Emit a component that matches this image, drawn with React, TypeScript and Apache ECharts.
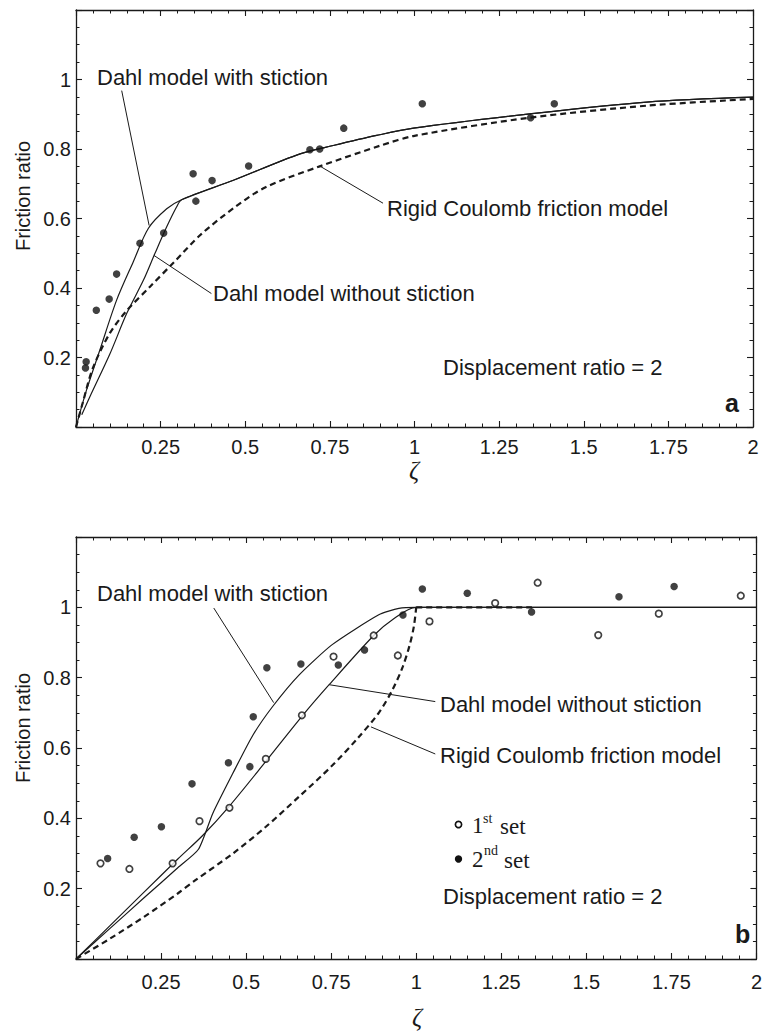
import React, { useEffect, useRef } from "react";
import * as echarts from "echarts";

// ---------- Panel a: displacement ratio = 2 ----------
// measured points
const zetaExpA = [0.028, 0.03, 0.06, 0.098, 0.12, 0.189, 0.259, 0.346, 0.354, 0.402, 0.51, 0.691, 0.72, 0.791, 1.023, 1.343, 1.413];
const fricExpA = [0.17, 0.188, 0.336, 0.368, 0.44, 0.529, 0.558, 0.729, 0.65, 0.709, 0.751, 0.798, 0.8, 0.86, 0.93, 0.89, 0.93];

// Dahl model with stiction
const zetaWithA = [0, 0.031, 0.07, 0.12, 0.169, 0.214, 0.268, 0.312, 0.465, 0.662, 0.76, 0.888, 0.997, 1.341, 1.686, 2];
const fricWithA = [0, 0.106, 0.22, 0.365, 0.475, 0.572, 0.628, 0.654, 0.71, 0.786, 0.81, 0.839, 0.86, 0.901, 0.935, 0.949];

// Dahl model without stiction
const zetaWithoutA = [0.017, 0.041, 0.1, 0.15, 0.199, 0.233, 0.268, 0.297, 0.312, 0.465, 0.662, 0.76, 0.888, 0.997, 1.341, 1.686, 2];
const fricWithoutA = [0.035, 0.087, 0.21, 0.327, 0.422, 0.499, 0.576, 0.633, 0.654, 0.71, 0.786, 0.81, 0.839, 0.86, 0.901, 0.935, 0.949];

// Rigid Coulomb friction model
const zetaRigidA = [0, 0.02, 0.05, 0.1, 0.15, 0.22, 0.29, 0.37, 0.47, 0.56, 0.72, 0.9, 1.0, 1.34, 1.69, 2];
const fricRigidA = [0, 0.07, 0.17, 0.27, 0.335, 0.405, 0.475, 0.555, 0.633, 0.69, 0.75, 0.81, 0.838, 0.89, 0.925, 0.944];

// ---------- Panel b ----------
const zetaSet1B = [0.072, 0.157, 0.284, 0.363, 0.451, 0.558, 0.664, 0.757, 0.875, 0.946, 1.039, 1.232, 1.357, 1.535, 1.713, 1.954];
const fricSet1B = [0.272, 0.256, 0.272, 0.392, 0.43, 0.569, 0.693, 0.86, 0.92, 0.863, 0.96, 1.012, 1.07, 0.921, 0.982, 1.033];

const zetaSet2B = [0.093, 0.171, 0.251, 0.341, 0.448, 0.511, 0.521, 0.561, 0.661, 0.771, 0.848, 0.961, 1.018, 1.15, 1.339, 1.596, 1.758];
const fricSet2B = [0.286, 0.346, 0.376, 0.498, 0.558, 0.547, 0.689, 0.828, 0.839, 0.836, 0.879, 0.978, 1.052, 1.04, 0.987, 1.03, 1.059];

const zetaWithB = [0, 0.1, 0.2, 0.3, 0.36, 0.402, 0.461, 0.519, 0.578, 0.656, 0.753, 0.89, 0.949, 1.0, 2];
const fricWithB = [0, 0.087, 0.174, 0.26, 0.312, 0.414, 0.528, 0.635, 0.718, 0.808, 0.894, 0.979, 0.997, 1.0, 1.0];

const zetaWithoutB = [0, 0.1, 0.2, 0.3, 0.373, 0.451, 0.558, 0.664, 0.744, 0.875, 0.93, 1.0, 2];
const fricWithoutB = [0, 0.095, 0.19, 0.285, 0.352, 0.435, 0.562, 0.69, 0.78, 0.92, 0.965, 1.0, 1.0];

// rising branch up to sticking at ζ = 1, then the plateau
const zetaRigidB = [0, 0.1, 0.2, 0.3, 0.351, 0.461, 0.558, 0.656, 0.753, 0.83, 0.89, 0.93, 0.96, 0.98, 0.993, 1.0];
const fricRigidB = [0, 0.058, 0.12, 0.187, 0.224, 0.3, 0.376, 0.462, 0.55, 0.63, 0.7, 0.765, 0.83, 0.89, 0.945, 1.0];
const zetaRigidFlatB = [1.0, 1.34];
const fricRigidFlatB = [1.0, 1.0];

// leader lines from the curve labels to their curves, [zeta, friction] pairs
const leadersA = [
  [[0.135, 0.968], [0.216, 0.58]],
  [[0.23, 0.494], [0.4, 0.384]],
  [[0.72, 0.751], [0.907, 0.644]],
];
const leadersB = [
  [[0.405, 0.998], [0.581, 0.729]],
  [[0.744, 0.78], [1.056, 0.732]],
  [[0.867, 0.66], [1.056, 0.583]],
];

const xTicks = ["0.25", "0.5", "0.75", "1", "1.25", "1.5", "1.75", "2"];
const yTicks = ["0.2", "0.4", "0.6", "0.8", "1"];

const INK = "#1a1a1a";
const SANS = "'Liberation Sans', Arial, Helvetica, sans-serif";
const SERIF = "'Liberation Serif', 'Times New Roman', serif";

const zip = (xs: number[], ys: number[]) => xs.map((x, i) => [x, ys[i]]);
const fmt = (v: number) => String(+v.toFixed(2));

function xAxes(grid: number, labelMargin: number) {
  const base = {
    type: "value",
    gridIndex: grid,
    min: 0,
    max: 2,
    interval: 0.25,
    axisLine: { show: true, onZero: false, lineStyle: { color: INK, width: 1.3 } },
    axisTick: { show: true, inside: true, length: 6, lineStyle: { color: INK, width: 1.1 } },
    minorTick: { show: true, splitNumber: 5, length: 3.5, lineStyle: { color: INK, width: 1 } },
    splitLine: { show: false },
    minorSplitLine: { show: false },
  };
  return [
    {
      ...base,
      position: "bottom",
      axisLabel: {
        show: true,
        margin: labelMargin,
        fontSize: 20,
        fontFamily: SANS,
        color: INK,
        formatter: (v: number) => (xTicks.includes(fmt(v)) ? fmt(v) : ""),
      },
    },
    { ...base, position: "top", axisLabel: { show: false } },
  ];
}

function yAxes(grid: number) {
  const base = {
    type: "value",
    gridIndex: grid,
    min: 0,
    max: 1.2,
    interval: 0.2,
    axisLine: { show: true, onZero: false, lineStyle: { color: INK, width: 1.3 } },
    axisTick: { show: true, inside: true, length: 6, lineStyle: { color: INK, width: 1.1 } },
    minorTick: { show: true, splitNumber: 4, length: 3.5, lineStyle: { color: INK, width: 1 } },
    splitLine: { show: false },
    minorSplitLine: { show: false },
  };
  return [
    {
      ...base,
      position: "left",
      axisLabel: {
        show: true,
        margin: 5,
        fontSize: 20,
        fontFamily: SANS,
        color: INK,
        formatter: (v: number) => (yTicks.includes(fmt(v)) ? fmt(v) : ""),
      },
    },
    { ...base, position: "right", axisLabel: { show: false } },
  ];
}

function curve(xi: number, yi: number, xs: number[], ys: number[], dashed = false, smooth: number | boolean = 0.3) {
  return {
    type: "line",
    xAxisIndex: xi,
    yAxisIndex: yi,
    data: zip(xs, ys),
    showSymbol: false,
    symbol: "none",
    smooth,
    silent: true,
    lineStyle: dashed
      ? { color: INK, width: 2.2, type: [6, 4] }
      : { color: INK, width: 1.2, type: "solid" },
    z: dashed ? 3 : 2,
  };
}

function leader(xi: number, yi: number, seg: number[][]) {
  return {
    type: "line",
    xAxisIndex: xi,
    yAxisIndex: yi,
    data: seg,
    showSymbol: false,
    symbol: "none",
    silent: true,
    lineStyle: { color: INK, width: 1 },
    z: 1,
  };
}

function filledDots(xi: number, yi: number, xs: number[], ys: number[]) {
  return {
    type: "scatter",
    xAxisIndex: xi,
    yAxisIndex: yi,
    data: zip(xs, ys),
    symbol: "circle",
    symbolSize: 7.5,
    silent: true,
    itemStyle: { color: "#111111" },
    z: 5,
  };
}

function openDots(xi: number, yi: number, xs: number[], ys: number[]) {
  return {
    type: "scatter",
    xAxisIndex: xi,
    yAxisIndex: yi,
    data: zip(xs, ys),
    symbol: "circle",
    symbolSize: 6.5,
    silent: true,
    itemStyle: { color: "#ffffff", borderColor: "#111111", borderWidth: 1.7 },
    z: 5,
  };
}

function label(text: string, x: number, y: number, extra: any = {}, rotation = 0) {
  return {
    type: "text",
    x,
    y,
    rotation,
    silent: true,
    style: {
      text,
      fontSize: 22,
      fontFamily: SANS,
      fill: INK,
      align: "left",
      verticalAlign: "middle",
      ...extra,
    },
  };
}

export default function App() {
  const ref = useRef<HTMLDivElement>(null);

  useEffect(() => {
    if (!ref.current) return;
    const chart = echarts.init(ref.current, undefined, { renderer: "svg" });

    const option: any = {
      animation: false,
      backgroundColor: "#ffffff",
      grid: [
        { left: 76, top: 10, width: 677, height: 417 },
        { left: 76, top: 537, width: 683, height: 422 },
      ],
      xAxis: [...xAxes(0, 10), ...xAxes(1, 13)],
      yAxis: [...yAxes(0), ...yAxes(1)],
      series: [
        // panel a
        curve(0, 0, zetaRigidA, fricRigidA, true),
        curve(0, 0, zetaWithA, fricWithA),
        curve(0, 0, zetaWithoutA, fricWithoutA),
        ...leadersA.map((s) => leader(0, 0, s)),
        filledDots(0, 0, zetaExpA, fricExpA),
        // panel b
        curve(2, 2, zetaRigidB, fricRigidB, true, 0.3),
        curve(2, 2, zetaRigidFlatB, fricRigidFlatB, true, false),
        curve(2, 2, zetaWithB, fricWithB, false, 0.2),
        curve(2, 2, zetaWithoutB, fricWithoutB),
        ...leadersB.map((s) => leader(2, 2, s)),
        openDots(2, 2, zetaSet1B, fricSet1B),
        filledDots(2, 2, zetaSet2B, fricSet2B),
      ],
      graphic: [
        // panel a labels
        label("Dahl model with stiction", 97, 77),
        label("Dahl model without stiction", 213, 293),
        label("Rigid Coulomb friction model", 387, 208),
        label("Displacement ratio = 2", 443, 367),
        label("a", 725, 403, { fontWeight: "bold", fontSize: 25 }),
        // panel b labels
        label("Dahl model with stiction", 97, 593),
        label("Dahl model without stiction", 440, 704),
        label("Rigid Coulomb friction model", 440, 755),
        label("Displacement ratio = 2", 443, 896),
        label("b", 735, 934, { fontWeight: "bold", fontSize: 25 }),
        // legend of panel b
        {
          type: "circle",
          silent: true,
          shape: { cx: 458.5, cy: 824.5, r: 3.1 },
          style: { fill: "#ffffff", stroke: "#111111", lineWidth: 1.7 },
        },
        {
          type: "circle",
          silent: true,
          shape: { cx: 458.5, cy: 859, r: 3.7 },
          style: { fill: "#111111" },
        },
        label("1", 472, 825, { fontFamily: SERIF, fontSize: 23 }),
        label("st", 483, 818, { fontFamily: SERIF, fontSize: 14 }),
        label("set", 500, 826, { fontFamily: SERIF, fontSize: 23 }),
        label("2", 472, 859, { fontFamily: SERIF, fontSize: 23 }),
        label("nd", 484, 850, { fontFamily: SERIF, fontSize: 14 }),
        label("set", 504, 860, { fontFamily: SERIF, fontSize: 23 }),
        // axis titles
        label("Friction ratio", 23, 196, { align: "center", fontSize: 20 }, Math.PI / 2),
        label("Friction ratio", 23, 728, { align: "center", fontSize: 20 }, Math.PI / 2),
        label("ζ", 414, 470, { align: "center", fontSize: 25, fontFamily: SERIF, fontStyle: "italic" }),
        label("ζ", 417, 1017, { align: "center", fontSize: 25, fontFamily: SERIF, fontStyle: "italic" }),
      ],
    };

    chart.setOption(option);
    return () => chart.dispose();
  }, []);

  return (
    <div
      ref={ref}
      style={{ position: "absolute", left: 0, top: 0, width: 765, height: 1031, background: "#fff" }}
    />
  );
}
